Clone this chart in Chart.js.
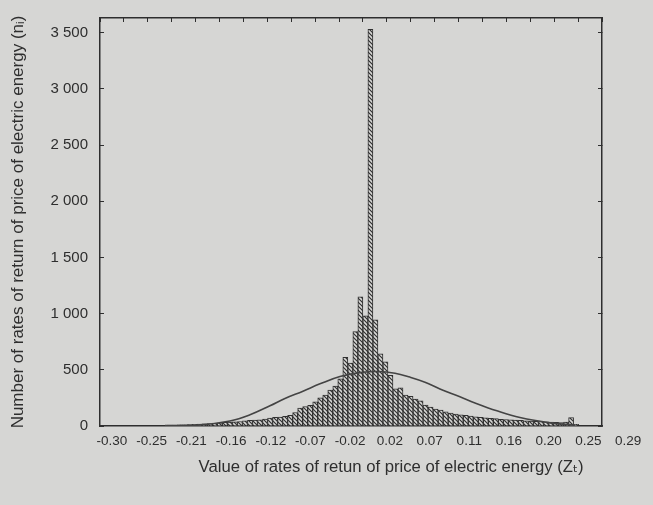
<!DOCTYPE html>
<html>
<head>
<meta charset="utf-8">
<script src="https://cdn.jsdelivr.net/npm/chart.js@4.4.0/dist/chart.umd.min.js"></script>
<style>
html,body{margin:0;padding:0;background:#d6d6d4;}
#wrap{width:653px;height:505px;position:relative;}
canvas{display:block;}
</style>
</head>
<body>
<div id="wrap"><canvas id="c" width="653" height="505"></canvas></div>
<script>
// ---- data ----
const binCenters = [
  -0.2299,-0.2242,-0.2185,-0.2128,-0.2071,-0.2014,-0.1957,-0.1900,-0.1843,-0.1786,
  -0.1729,-0.1672,-0.1615,-0.1558,-0.1501,-0.1444,-0.1387,-0.1330,-0.1273,-0.1216,
  -0.1159,-0.1102,-0.1045,-0.0988,-0.0931,-0.0874,-0.0817,-0.0760,-0.0703,-0.0646,
  -0.0589,-0.0532,-0.0475,-0.0418,-0.0361,-0.0304,-0.0247,-0.0190,-0.0133,-0.0076,
  -0.0019, 0.0038, 0.0095, 0.0152, 0.0209, 0.0266, 0.0323, 0.0380, 0.0437, 0.0494,
   0.0551, 0.0608, 0.0665, 0.0722, 0.0779, 0.0836, 0.0893, 0.0950, 0.1007, 0.1064,
   0.1121, 0.1178, 0.1235, 0.1292, 0.1349, 0.1406, 0.1463, 0.1520, 0.1577, 0.1634,
   0.1691, 0.1748, 0.1805, 0.1862, 0.1919, 0.1976, 0.2033, 0.2090, 0.2147, 0.2204,
   0.2261, 0.2318
];
const binCounts = [
    8,   8,  10,  10,  12,  15,  18,  20,  22,  25,
   28,  32,  35,  38,  40,  45,  50,  52,  55,  62,
   70,  78,  80,  85,  95, 120, 160, 172, 185, 215,
  250, 275, 320, 355, 420, 610, 560, 840,1150, 980,
 3530, 944, 641, 570, 450, 330, 340, 276, 265, 240,
  225, 187, 169, 151, 142, 125, 116, 107, 100,  95,
   88,  82,  78,  72,  68,  65,  60,  58,  55,  52,
   50,  46,  44,  42,  40,  38,  35,  33,  30,  35,
   75,  15
];
const curveX = [-0.2353,-0.1955,-0.1615,-0.1387,-0.1160,-0.0990,-0.0785,-0.0592,-0.0365,-0.0138,
                 0.0067, 0.0260, 0.0430, 0.0601, 0.0771, 0.0998, 0.1169, 0.1418, 0.1680, 0.2021, 0.2305];
const curveY = [3, 10, 45, 100, 180, 245, 310, 375, 440, 475,
                485, 470, 435, 390, 330, 260, 205, 135, 75, 28, 8];
const xTickLabels = ['-0.30','-0.25','-0.21','-0.16','-0.12','-0.07','-0.02','0.02','0.07','0.11','0.16','0.20','0.25','0.29'];
const yTickValues = [0, 500, 1000, 1500, 2000, 2500, 3000, 3500];
const xTitleText = 'Value of rates of retun of price of electric energy (Z\u209C)';
const yTitleText = 'Number of rates of return of price of electric energy (n\u1D62)';

// ---- axis geometry ----
const X_MIN = -0.3091, X_MAX = 0.2612;
const X_TICK_START = -0.2955, X_TICK_STEP = 0.0451;
const Y_MIN = 0, Y_MAX = 3630;
const INK = '#2e2e2e';
const FONT = "'Liberation Sans', Arial, 'DejaVu Sans', sans-serif";

function hatchPattern() {
  const c = document.createElement('canvas');
  c.width = 4; c.height = 4;
  const g = c.getContext('2d');
  g.fillStyle = '#d8d8d6';
  g.fillRect(0, 0, 4, 4);
  g.strokeStyle = '#303030';
  g.lineWidth = 1.2;
  g.beginPath();
  g.moveTo(-1, -1); g.lineTo(5, 5);
  g.moveTo(-1, 3); g.lineTo(1, 5);
  g.moveTo(3, -1); g.lineTo(5, 1);
  g.stroke();
  return g.createPattern(c, 'repeat');
}

const barData = binCenters.map((x, i) => ({x: x, y: binCounts[i]}));
const curveData = curveX.map((x, i) => ({x: x, y: curveY[i]}));

function fmtY(v) {
  if (v >= 1000) {
    const th = Math.floor(v / 1000), r = v % 1000;
    return th + ' ' + String(r).padStart(3, '0');
  }
  return String(v);
}
function noPad(s) { s.paddingTop = 0; s.paddingBottom = 0; s.paddingLeft = 0; s.paddingRight = 0; }

new Chart(document.getElementById('c'), {
  type: 'bar',
  data: {
    datasets: [
      {
        type: 'line',
        data: curveData,
        borderColor: '#444',
        borderWidth: 1.6,
        pointRadius: 0,
        tension: 0.4,
        fill: false,
        order: 0
      },
      {
        type: 'bar',
        data: barData,
        backgroundColor: hatchPattern(),
        borderColor: '#303030',
        borderWidth: 1,
        barPercentage: 1.0,
        categoryPercentage: 1.0,
        order: 1
      }
    ]
  },
  options: {
    responsive: false,
    animation: false,
    devicePixelRatio: 1,
    layout: {padding: 0},
    plugins: {legend: {display: false}, tooltip: {enabled: false}},
    scales: {
      x: {
        type: 'linear',
        position: 'bottom',
        offset: false,
        min: X_MIN, max: X_MAX,
        afterBuildTicks: s => { s.ticks = xTickLabels.map((l, i) => ({value: X_TICK_START + i * X_TICK_STEP})); },
        afterFit: s => { s.height = 79; noPad(s); },
        grid: {display: false, drawTicks: false, offset: false},
        border: {display: true, color: INK, width: 1.5},
        ticks: {
          autoSkip: false, maxRotation: 0, minRotation: 0,
          padding: 7, color: INK,
          font: {family: FONT, size: 13.5},
          callback: (v, i) => xTickLabels[i]
        },
        title: {
          display: true,
          text: xTitleText + '\u00a0\u00a0\u00a0\u00a0',
          align: 'end',
          color: INK,
          font: {family: FONT, size: 16.7},
          padding: {top: 0, bottom: 28}
        }
      },
      x2: {
        type: 'linear',
        position: 'top',
        offset: false,
        min: X_MIN, max: X_MAX,
        afterBuildTicks: s => { const t = []; for (let i = 0; i <= 21; i++) t.push({value: X_MIN + i * (X_MAX - X_MIN) / 21}); s.ticks = t; },
        afterFit: s => { s.height = 18; noPad(s); },
        grid: {display: true, offset: false, drawOnChartArea: false, drawTicks: true, tickLength: -4, tickColor: INK, tickWidth: 1},
        border: {display: true, color: INK, width: 1.5},
        ticks: {display: false}
      },
      y: {
        type: 'linear',
        position: 'left',
        min: Y_MIN, max: Y_MAX,
        afterBuildTicks: s => { s.ticks = yTickValues.map(v => ({value: v})); },
        afterFit: s => { s.width = 100; noPad(s); },
        grid: {display: true, drawOnChartArea: false, drawTicks: true, tickLength: -4, tickColor: INK, tickWidth: 1},
        border: {display: true, color: INK, width: 1.5},
        ticks: {
          padding: 16, color: INK,
          font: {family: FONT, size: 15},
          callback: v => fmtY(v)
        },
        title: {
          display: true,
          text: yTitleText,
          color: INK,
          font: {family: FONT, size: 17},
          padding: {top: 8, bottom: 0}
        }
      },
      y2: {
        type: 'linear',
        position: 'right',
        min: Y_MIN, max: Y_MAX,
        afterBuildTicks: s => { s.ticks = yTickValues.map(v => ({value: v})); },
        afterFit: s => { s.width = 51; noPad(s); },
        grid: {display: true, drawOnChartArea: false, drawTicks: true, tickLength: -4, tickColor: INK, tickWidth: 1},
        border: {display: true, color: INK, width: 1.5},
        ticks: {display: false}
      }
    }
  }
});
</script>
</body>
</html>
